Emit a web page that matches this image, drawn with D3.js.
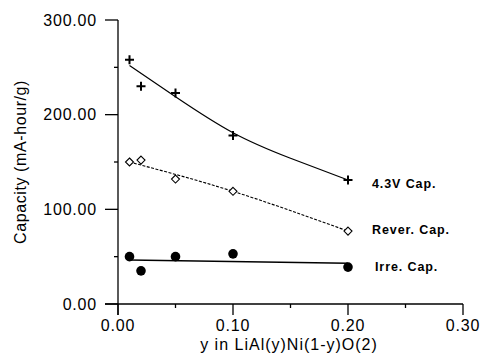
<!DOCTYPE html>
<html>
<head>
<meta charset="utf-8">
<script src="https://cdn.jsdelivr.net/npm/d3@7"></script>
<style>
body { margin: 0; background: #fff; }
text { font-family: "Liberation Sans", Arial, sans-serif; }
</style>
</head>
<body>
<svg id="chart" width="481" height="361"></svg>
<script>
// measured points
var yFrac = [0.01, 0.02, 0.05, 0.10, 0.20];
var cap43 = [258, 230, 223, 178, 131];
var capRever = [150, 152, 132, 119, 77];
var capIrre = [50, 35, 50, 53, 39];
// fitted trend lines
var fitX43 = [0.01, 0.05, 0.10, 0.15, 0.20];
var fit43 = [252, 219, 181, 154, 131];
var fitXRever = [0.01, 0.10, 0.20];
var fitRever = [150, 119, 77];
var fitXIrre = [0.01, 0.20];
var fitIrre = [46.5, 43];
var xTicks = [0, 0.1, 0.2, 0.3];
var yTicks = [0, 100, 200, 300];
var seriesNames = ["4.3V Cap.", "Rever. Cap.", "Irre. Cap."];

var svg = d3.select("#chart");
var x = d3.scaleLinear().domain([0, 0.3]).range([118, 463]);
var y = d3.scaleLinear().domain([0, 300]).range([304, 20]);

// axes
var yAxis = svg.append("g").attr("transform", "translate(118,0)");
yAxis.append("line").attr("x1", 0).attr("x2", 0).attr("y1", y(300)).attr("y2", 315).attr("stroke", "#000").attr("stroke-width", 1.3);
yAxis.selectAll("line.major").data(yTicks).enter().append("line").attr("class", "major")
	.attr("x1", -13).attr("x2", 0).attr("y1", function (d) { return y(d); }).attr("y2", function (d) { return y(d); })
	.attr("stroke", "#000").attr("stroke-width", 1.3);
yAxis.selectAll("line.minor").data([50, 150, 250]).enter().append("line").attr("class", "minor")
	.attr("x1", -4).attr("x2", 0).attr("y1", function (d) { return y(d); }).attr("y2", function (d) { return y(d); })
	.attr("stroke", "#000").attr("stroke-width", 1.3);
yAxis.selectAll("text").data(yTicks).enter().append("text")
	.attr("x", -21).attr("y", function (d) { return y(d); }).attr("dy", "0.35em")
	.attr("text-anchor", "end").attr("font-size", "16px").attr("letter-spacing", "0.8px").text(function (d) { return d3.format(".2f")(d); });

var xAxis = svg.append("g").attr("transform", "translate(0,304)");
xAxis.append("line").attr("x1", 105).attr("x2", x(0.3)).attr("y1", 0).attr("y2", 0).attr("stroke", "#000").attr("stroke-width", 1.3);
xAxis.selectAll("line.major").data(xTicks).enter().append("line").attr("class", "major")
	.attr("x1", function (d) { return x(d); }).attr("x2", function (d) { return x(d); }).attr("y1", 0).attr("y2", 11)
	.attr("stroke", "#000").attr("stroke-width", 1.3);
xAxis.selectAll("line.minor").data([0.05, 0.15, 0.25]).enter().append("line").attr("class", "minor")
	.attr("x1", function (d) { return x(d); }).attr("x2", function (d) { return x(d); }).attr("y1", 0).attr("y2", 4)
	.attr("stroke", "#000").attr("stroke-width", 1.3);
xAxis.selectAll("text").data(xTicks).enter().append("text")
	.attr("x", function (d) { return x(d); }).attr("y", 21).attr("dy", "0.35em")
	.attr("text-anchor", "middle").attr("font-size", "16px").attr("letter-spacing", "0.8px").text(function (d) { return d3.format(".2f")(d); });

svg.append("text").attr("x", 289).attr("y", 344).attr("dy", "0.35em").attr("text-anchor", "middle").attr("font-size", "16px").attr("letter-spacing", "1px")
	.text("y in LiAl(y)Ni(1-y)O(2)");
svg.append("text").attr("transform", "translate(20,162) rotate(-90)").attr("dy", "0.35em").attr("text-anchor", "middle").attr("font-size", "16px").attr("letter-spacing", "0.6px")
	.text("Capacity (mA-hour/g)");

// fit lines
var line = d3.line().x(function (d) { return x(d[0]); }).y(function (d) { return y(d[1]); }).curve(d3.curveNatural);
svg.append("path").datum(d3.zip(fitX43, fit43)).attr("d", line).attr("fill", "none").attr("stroke", "#000").attr("stroke-width", 1.2);
svg.append("path").datum(d3.zip(fitXRever, fitRever)).attr("d", line).attr("fill", "none").attr("stroke", "#000").attr("stroke-width", 1.1).attr("stroke-dasharray", "3,1.5");
svg.append("path").datum(d3.zip(fitXIrre, fitIrre)).attr("d", line).attr("fill", "none").attr("stroke", "#000").attr("stroke-width", 1.5);

// markers
svg.selectAll("path.plus").data(d3.zip(yFrac, cap43)).enter().append("path").attr("class", "plus")
	.attr("d", function (d) { var cx = x(d[0]), cy = y(d[1]); return "M" + (cx - 4.5) + "," + cy + "H" + (cx + 4.5) + "M" + cx + "," + (cy - 4.5) + "V" + (cy + 4.5); })
	.attr("stroke", "#000").attr("stroke-width", 2);
svg.selectAll("path.diamond").data(d3.zip(yFrac, capRever)).enter().append("path").attr("class", "diamond")
	.attr("d", function (d) { var cx = x(d[0]), cy = y(d[1]); return "M" + cx + "," + (cy - 4) + "L" + (cx + 4) + "," + cy + "L" + cx + "," + (cy + 4) + "L" + (cx - 4) + "," + cy + "Z"; })
	.attr("fill", "#fff").attr("stroke", "#000").attr("stroke-width", 1.1);
svg.selectAll("circle.dot").data(d3.zip(yFrac, capIrre)).enter().append("circle").attr("class", "dot")
	.attr("cx", function (d) { return x(d[0]); }).attr("cy", function (d) { return y(d[1]); }).attr("r", 4.8).attr("fill", "#000");

// series labels
svg.selectAll("text.lab").data(seriesNames).enter().append("text").attr("class", "lab")
	.attr("x", function (d, i) { return [372, 372, 375][i]; })
	.attr("y", function (d, i) { return [184, 230, 267][i]; }).attr("dy", "0.35em")
	.attr("font-size", "12.5px").attr("font-weight", "bold").attr("letter-spacing", "0.9px").text(function (d) { return d; });
</script>
</body>
</html>
